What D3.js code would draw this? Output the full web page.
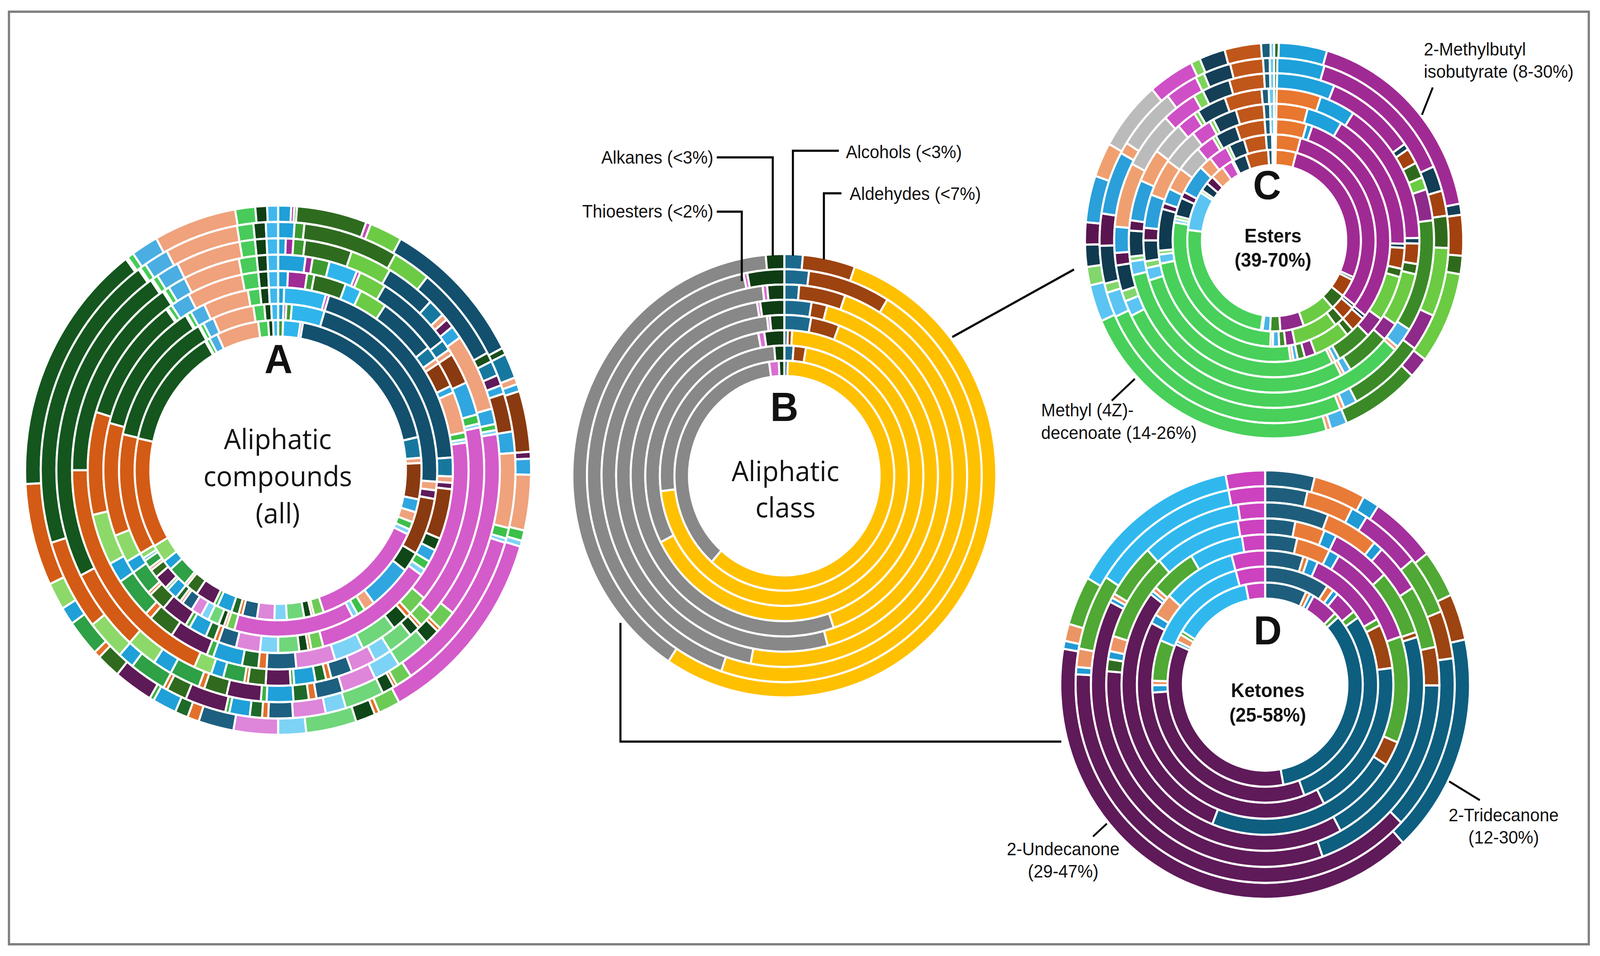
<!DOCTYPE html>
<html>
<head>
<meta charset="utf-8">
<script src="https://cdn.jsdelivr.net/npm/d3@7"></script>
<style>
html,body{margin:0;padding:0;background:#fff;overflow:hidden;}
svg{display:block;width:100vw;height:100vh;}
</style>
</head>
<body>
<svg id="chart" viewBox="0 0 4286 2448" preserveAspectRatio="none"></svg>
<script>
// ---------------- DATA ----------------
// Panel B: aliphatic classes, one ring per sample (outer -> inner), % of ring
const classCategories = ["Alcohols","Aldehydes","Esters","Ketones","Thioesters","Alkanes"];
const classColors = ["#1B6A8E","#9C4310","#FFC000","#888888","#D96FD2","#103C14"];
const classRings = [
  [1.4, 4.0, 53.8, 39.4, 0.0, 1.4],
  [2.0, 6.7, 46.2, 41.3, 0.3, 3.0],
  [1.3, 4.1, 47.5, 45.1, 0.4, 1.5],
  [2.6, 1.5, 41.7, 51.5, 0.3, 2.3],
  [2.8, 3.0, 38.9, 53.3, 0.3, 1.5],
  [0.4, 0.5, 66.2, 29.4, 0.7, 2.3],
  [1.2, 1.6, 70.3, 25.6, 0.0, 1.3],
  [0.5, 0.0, 60.5, 36.0, 1.4, 0.8]
];

// Panel C: esters (% of ester fraction per ring)
const esterCategories = ["Ester 1","Ester 2","Ester 3","2-Methylbutyl isobutyrate","Ester 5","Ester 6","Ester 7","Ester 8",
  "Ester 9","Ester 10","Ester 11","Ester 12","Methyl (4Z)-decenoate","Ester 14","Ester 15","Ester 16","Ester 17",
  "Ester 18","Ester 19","Ester 20","Ester 21","Ester 22","Ester 23","Ester 24","Ester 25","Ester 26"];
const esterColors = ["#2E6B1E","#E8772F","#1EA0DA","#A02A94","#123E56","#A3420F","#2F6A1C","#6BCB43",
  "#8E2A8A","#3B8A27","#49B3E8","#F0A27A","#48D05B","#5BC4F2","#82D66C","#0F3A50","#5A1550",
  "#2A9FDA","#F0A070","#BBBBBB","#CF4FC7","#7ED35A","#143F57","#C0561A","#1B5D7A","#67C8F0"];
const esterRings = [
  [0.4,0.0,4.1,17.4,0.9,3.3,1.5,7.5,1.7,6.7,1.4,0.4,22.7,3.0,1.5,1.8,1.8,3.8,2.8,5.7,3.9,0.8,2.2,3.1,0.8,0.3],
  [0.3,0.0,4.3,13.5,2.2,2.2,2.8,6.0,3.3,7.0,1.2,0.4,24.0,2.2,0.8,3.3,2.8,5.5,1.0,5.5,3.0,0.8,2.5,3.0,0.6,0.4],
  [0.3,0.0,5.8,9.0,0.6,1.5,1.5,1.2,3.0,10.8,2.0,0.4,31.0,1.5,1.0,2.5,1.2,2.5,6.2,5.5,3.5,1.0,2.8,3.5,0.6,0.4],
  [0.3,5.0,4.0,15.8,0.6,2.2,1.1,5.8,2.0,5.0,0.8,0.4,29.4,1.5,0.5,2.8,1.1,4.4,3.6,3.6,2.2,0.5,3.3,4.2,0.8,0.6],
  [0.3,3.9,4.5,17.0,0.5,2.5,1.0,5.5,2.5,4.5,0.6,0.4,28.0,1.5,0.8,2.5,1.5,4.0,4.5,4.5,2.5,0.5,3.0,3.5,0.8,0.5],
  [0.3,4.2,0.8,30.0,0.5,2.0,1.0,5.0,1.5,1.0,0.6,0.4,24.0,1.2,0.5,5.5,0.8,2.0,3.0,3.5,2.5,0.5,3.0,4.0,0.8,0.5],
  [0.3,3.9,0.0,31.0,0.5,2.2,1.5,7.0,1.5,1.0,1.0,0.4,27.0,0.5,0.5,2.8,1.0,4.5,2.0,0.0,3.0,0.5,2.5,3.5,1.0,0.3],
  [0.3,3.8,0.0,27.5,0.5,3.3,2.8,6.2,4.4,1.9,1.4,0.3,24.4,7.0,0.5,1.5,1.5,0.0,2.5,0.0,2.0,0.3,2.5,4.2,0.8,0.3]
];

// Panel D: ketones (% of ketone fraction per ring)
const ketoneCategories = ["Ketone 1","Ketone 2","Ketone 3","Ketone 4","Ketone 5","Ketone 6","2-Tridecanone","2-Undecanone",
  "Ketone 9","Ketone 10","Ketone 11","Ketone 12","Ketone 13","Ketone 14"];
const ketoneColors = ["#1E5E7C","#E97B38","#1F9AD5","#A3309D","#4FA934","#9C4412","#0E5E80","#5F1A59",
  "#2F6B20","#1F9AD5","#EC9463","#4FA934","#30B8EE","#CC42BF"];
const ketoneRings = [
  [3.9,4.1,1.3,5.2,3.6,3.5,16.6,39.4,0.0,0.6,1.3,3.7,13.6,3.1],
  [3.6,4.0,1.4,5.2,4.8,3.9,14.4,38.6,0.0,0.6,1.5,6.2,12.8,3.1],
  [5.9,4.9,0.9,4.4,5.6,3.4,19.6,37.9,0.0,0.4,0.4,4.9,9.3,2.5],
  [3.1,3.1,1.3,6.2,6.5,0.5,22.1,34.7,1.2,0.8,1.5,8.8,9.0,2.8],
  [3.6,3.8,1.2,11.2,11.5,2.7,22.0,29.3,0.0,0.4,0.5,5.2,6.0,2.6],
  [4.8,0.6,1.3,10.1,0.8,5.3,19.3,40.0,0.0,1.1,2.8,0.0,9.2,4.2],
  [9.3,1.0,0.8,3.3,1.0,0.0,29.0,29.6,0.0,1.0,0.6,5.6,14.7,4.2],
  [6.9,0.7,0.7,4.4,0.8,0.0,33.5,34.5,0.0,0.5,1.2,0.6,13.0,3.2]
];

// Panel A: all aliphatic compounds (relative shares per ring, 48 compounds clockwise from 12 o'clock)
const allCategories = d3.range(48).map(i => "Compound " + (i + 1));
const allColors = [
  "#1FA0D8","#A02A96","#3C9A30","#2E6B1F","#2FB5EC","#C44DB8","#6CCB45","#13506E","#174F1C","#17789F","#EFA27C",
  "#5E1A5A","#2FA6E0","#EFA27C","#8A3A10","#5E1A5A","#0F4718","#2FA6E0","#EFA27C","#3CC04A","#7DD3F5","#D45BCA",
  "#6CCB55","#E2702A","#0F4718","#6FD67A","#7DD3F5","#DD86DA","#1D5F80","#E2702A","#1E6A2A","#1FA0D8","#3CB043",
  "#5C1A57","#2F6A1F","#E2702A","#2EA046","#1FA0D8","#8CD96A","#D35B15","#14561E","#C04FB5","#48CB5A","#4AAEE2",
  "#EFA27C","#48CB5A","#0F3F14","#3FB8EE"];
const allRings = [
  [3,0.7,0.6,16.1,0,1.1,7.5,33.5,1.5,5.5,1.5,0,1.6,0,13.4,1.5,0,3.5,12.2,2.3,1.3,44.6,
   5.0,1.1,4.5,11.6,6.4,10.2,8.1,2.7,3.0,5.5,1.0,9.0,5.5,1.5,8.1,3.9,6.0,22.5,56.0,0.5,1.5,6.2,19.0,4.6,2.7,2.5],
  [4,0,2.4,23.2,0,0,9.3,22.9,2.2,3.5,0,2.5,2,0,9,0,0,5,17.5,2.5,1,39,
   4,0.8,3,9.6,5,8,6,1.5,3,5,1,10,5,1,9,4,9.6,21.5,71,0.5,1.5,6,18,4,3,3],
  [2,2,3,12.4,0,0,10.9,13.1,0,4.5,1.6,2.3,3.3,19.5,0,0,0,3.9,0,1.5,1,47,
   5,1,4,9,7,9,7,2,4,7,1.5,9,6,1.5,8,5,8,21,82,0.5,1.5,6,17,4,3,3],
  [7.7,2,4.8,0,8,1,7.7,21.8,0,3,1.5,0,0,0,8.5,0,0,9,0,2.5,1,53.5,
   4,1,3,7,5,7,6,1.5,3,6,1,7,5,1,6,3.5,5,66,56,0.5,1.5,5,16,5,3,3],
  [3,5.8,2.2,9.8,5,0,8.4,17.8,0,4,1.5,0,0,0,7.5,0,0,2,12,2,1,48,
   6,1.5,5,11,9,12,9,2.5,5,9,2,12,8,2,12,6,15,30,37,0.5,1.5,6,17,5,3,3],
  [2,0,0,0,13.9,1.1,0,69,0,6,2,2,0,0,16,0,4,4,0,3,2,40,
   4,1,3,7,6,8,6,1.5,3,6,1.5,9,6,1,8,4,9,36,43,0.5,1.5,5,15,4,3,3],
  [2,1,2,0,12,0,0,77,0,0,3,3,0,0,20,0,7,16,4,3,2,44,
   3,1,2,4,3,4,4,1,2,4,1,5,3,1,3,1,2,42.5,47.5,0.5,1.5,4,15,4,2.5,2.5],
  [0,0,2,0,7,1,0,67,0,8,2,0,0,0,14,0,0,5,4,3,2,46,
   4,1,3,7,5,7,6,1.5,3,6,1.5,8,5,1,8,4,7,42.5,47,0.5,1.5,3.5,17,4,2,2]
];

// ---------------- DRAWING ----------------
const GAP = 5.5;
const svg = d3.select("#chart");
const TEXT_FONT = "'Open Sans','Noto Sans',sans-serif";
const LABEL_FONT = "'Liberation Sans',Arial,sans-serif";

svg.append("rect").attr("x", 0).attr("y", 0).attr("width", 4286).attr("height", 2448).attr("fill", "#fff");
svg.append("rect").attr("x", 24).attr("y", 30).attr("width", 4232).attr("height", 2388)
  .attr("fill", "none").attr("stroke", "#808080").attr("stroke-width", 6);

function drawDonut(cfg) {
  const g = svg.append("g").attr("transform", `translate(${cfg.cx},${cfg.cy})`);
  const n = cfg.rings.length;
  const rScale = d3.scaleLinear().domain([0, n]).range([cfg.outer + GAP / 2, cfg.inner - GAP / 2]);
  const pie = d3.pie().sort(null).value(d => d.v);
  cfg.rings.forEach((vals, k) => {
    const arc = d3.arc().outerRadius(rScale(k)).innerRadius(rScale(k + 1));
    const arcs = pie(vals.map((v, i) => ({ v, i, name: cfg.categories[i] }))).filter(d => d.data.v > 0);
    g.append("g").selectAll("path").data(arcs).join("path")
      .attr("d", arc)
      .attr("fill", d => cfg.colors[d.data.i])
      .attr("stroke", "#fff")
      .attr("stroke-width", GAP);
  });
  return { g, rScale };
}

const A = drawDonut({ cx: 745, cy: 1204, outer: 675, inner: 345, rings: allRings, colors: allColors, categories: allCategories });
const B = drawDonut({ cx: 2101, cy: 1218, outer: 565, inner: 258, rings: classRings, colors: classColors, categories: classCategories });
const C = drawDonut({ cx: 3413, cy: 616, outer: 504, inner: 196, rings: esterRings, colors: esterColors, categories: esterCategories });
const D = drawDonut({ cx: 3389, cy: 1753, outer: 546, inner: 223, rings: ketoneRings, colors: ketoneColors, categories: ketoneCategories });

function text(x, y, str, opts) {
  return svg.append("text").attr("x", x).attr("y", y)
    .attr("text-anchor", opts.anchor || "start")
    .attr("font-family", opts.font || LABEL_FONT)
    .attr("font-size", opts.size)
    .attr("font-weight", opts.weight || "normal")
    .attr("fill", "#111")
    .text(str);
}
function line(points, w) {
  svg.append("path").attr("d", d3.line()(points)).attr("fill", "none")
    .attr("stroke", "#000").attr("stroke-width", w || 5.5).attr("stroke-linejoin", "miter");
}

// panel letters
text(746, 955, "A", { anchor: "middle", size: 104, weight: "bold" });
text(2101, 1078, "B", { anchor: "middle", size: 104, weight: "bold" });
text(3394, 510, "C", { anchor: "middle", size: 104, weight: "bold" });
text(3396, 1650, "D", { anchor: "middle", size: 104, weight: "bold" });

// centre texts
text(744, 1150, "Aliphatic", { anchor: "middle", size: 72, font: TEXT_FONT });
text(744, 1245, "compounds", { anchor: "middle", size: 72, font: TEXT_FONT });
text(744, 1340, "(all)", { anchor: "middle", size: 72, font: TEXT_FONT });
text(2104, 1232, "Aliphatic", { anchor: "middle", size: 72, font: TEXT_FONT });
text(2104, 1325, "class", { anchor: "middle", size: 72, font: TEXT_FONT });
text(3410, 621, "Esters", { anchor: "middle", size: 50, weight: "bold" });
text(3410, 683, "(39-70%)", { anchor: "middle", size: 50, weight: "bold" });
text(3396, 1785, "Ketones", { anchor: "middle", size: 50, weight: "bold" });
text(3396, 1848, "(25-58%)", { anchor: "middle", size: 50, weight: "bold" });

// B annotations: leader lines end on the ring they point to
function ringEdgeY(donut, cx, cy, ringIdx, x, frac) {
  const r = donut.rScale(ringIdx + frac);
  return cy - Math.sqrt(r * r - (x - cx) * (x - cx));
}
const bLabels = [
  { t: "Alkanes (<3%)", tx: 1911, ty: 419, anchor: "end", ly: 403, lx0: 1920, vx: 2070, ring: 0, frac: 0.1 },
  { t: "Alcohols (<3%)", tx: 2266, ty: 405, anchor: "start", ly: 386, lx0: 2247, vx: 2124, ring: 0, frac: 0.1 },
  { t: "Aldehydes (<7%)", tx: 2276, ty: 512, anchor: "start", ly: 495, lx0: 2254, vx: 2207, ring: 0, frac: 0.1 },
  { t: "Thioesters (<2%)", tx: 1911, ty: 557, anchor: "end", ly: 542, lx0: 1920, vx: 1987, ring: 1, frac: 0.45 }
];
bLabels.forEach(l => {
  text(l.tx, l.ty, l.t, { anchor: l.anchor, size: 46 });
  const yEnd = ringEdgeY(B, 2101, 1218, l.ring, l.vx, l.frac);
  line([[l.lx0, l.ly], [l.vx, l.ly], [l.vx, yEnd]]);
});

// C annotations
text(3814, 142, "2-Methylbutyl", { size: 46 });
text(3814, 199, "isobutyrate (8-30%)", { size: 46 });
line([[3838, 224], [3809, 294]], 5);
text(2789, 1066, "Methyl (4Z)-", { size: 46 });
text(2789, 1124, "decenoate (14-26%)", { size: 46 });
line([[2978, 1026], [3040, 970]], 5);

// D annotations
text(2848, 2190, "2-Undecanone", { anchor: "middle", size: 46 });
text(2848, 2247, "(29-47%)", { anchor: "middle", size: 46 });
line([[2928, 2142], [2965, 2109]], 5);
text(4028, 2103, "2-Tridecanone", { anchor: "middle", size: 46 });
text(4028, 2160, "(12-30%)", { anchor: "middle", size: 46 });
line([[3882, 2001], [3964, 2049]], 5);

// connectors B -> C and B -> D
line([[2551, 863], [2877, 690]], 5.5);
line([[1662, 1595], [1662, 1899], [2843, 1899]], 5.5);
</script>
</body>
</html>
